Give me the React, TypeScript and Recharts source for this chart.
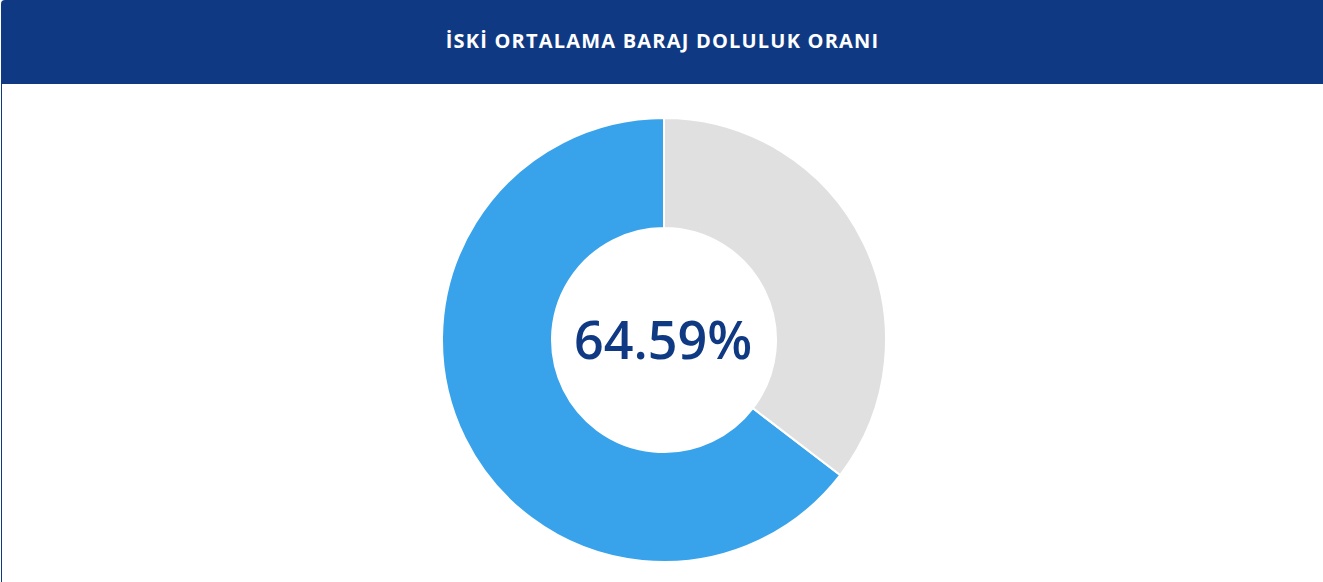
import React from 'react';
import { PieChart, Pie, Cell } from 'recharts';

const title = 'İSKİ ORTALAMA BARAJ DOLULUK ORANI';
const sliceNames = ['Dolu', 'Boş'];
const sliceValues = [64.59, 35.41];
const sliceColors = ['#38a2ea', '#e0e0e0'];

const data = sliceNames.map((name, i) => ({ name, value: sliceValues[i] }));

export default function App() {
  const label = `${sliceValues[0].toFixed(2)}%`;
  return (
    <div
      style={{
        position: 'absolute',
        left: 0,
        top: 0,
        width: 1323,
        height: 582,
        background: '#fff',
        overflow: 'hidden',
        fontFamily: '"Open Sans", sans-serif',
      }}
    >
      <div
        style={{
          position: 'absolute',
          left: 1,
          top: 0,
          width: 1330,
          height: 84,
          background: '#0f3a83',
          borderTopLeftRadius: 4,
          color: '#fff',
          fontWeight: 700,
          fontSize: 20,
          letterSpacing: 1.2,
          display: 'flex',
          alignItems: 'center',
          justifyContent: 'center',
          paddingRight: 7,
          paddingBottom: 4,
          boxSizing: 'border-box',
        }}
      >
        {title}
      </div>
      <div style={{ position: 'absolute', left: 1, top: 84, width: 1, height: 498, background: '#0f3a83' }} />
      <div style={{ position: 'absolute', left: 0, top: 84 }}>
        <PieChart width={1323} height={498} margin={{ top: 0, right: 0, bottom: 0, left: 0 }}>
          <Pie
            data={data}
            dataKey="value"
            nameKey="name"
            cx={664}
            cy={256}
            innerRadius={112}
            outerRadius={222}
            startAngle={90}
            endAngle={450}
            stroke="#fff"
            strokeWidth={2}
            isAnimationActive={false}
          >
            {data.map((d, i) => (
              <Cell key={d.name} fill={sliceColors[i]} />
            ))}
          </Pie>
          <text
            x={663}
            y={254}
            textAnchor="middle"
            dominantBaseline="central"
            fill="#0f3a83"
            fontFamily='"Open Sans", sans-serif'
            fontWeight={600}
            fontSize={52}
          >
            {label}
          </text>
        </PieChart>
      </div>
    </div>
  );
}
